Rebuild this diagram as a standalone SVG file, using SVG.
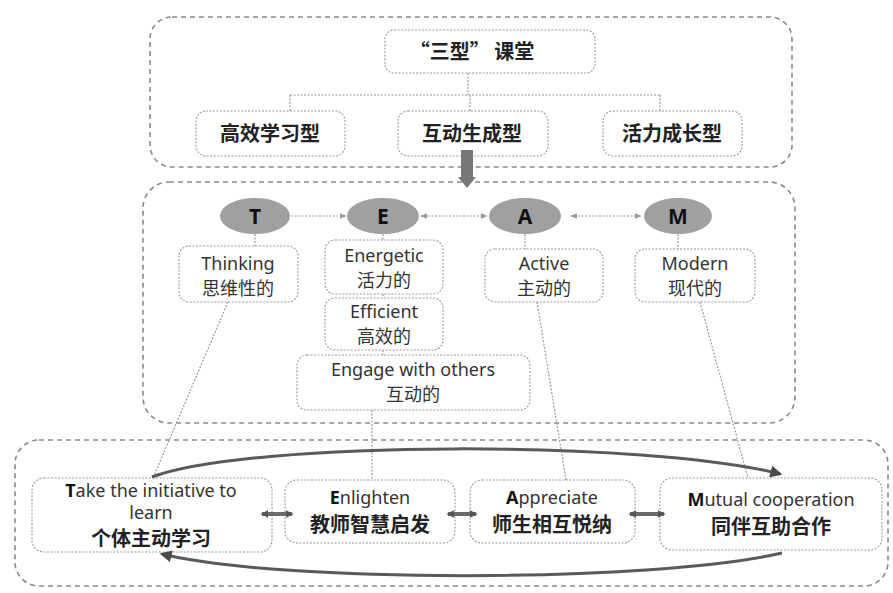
<svg xmlns="http://www.w3.org/2000/svg" width="893" height="593" viewBox="0 0 893 593">
<defs>
<style>
.outer{fill:none;stroke:#8a8a8a;stroke-width:1.6;stroke-dasharray:5 4}
.box{fill:#fff;stroke:#9a9a9a;stroke-width:1.1;stroke-dasharray:2 1.5}
.conn{fill:none;stroke:#9a9a9a;stroke-width:1.2;stroke-dasharray:2 1.5}
.ell{fill:#a0a0a0}
.en{font-family:"Noto Sans","Open Sans",sans-serif;font-size:18px;fill:#333;text-anchor:middle}
.zh{font-family:"Noto Sans CJK SC",sans-serif;font-size:18px;fill:#333;text-anchor:middle}
.zhb{font-family:"Noto Sans CJK SC",sans-serif;font-size:20px;font-weight:bold;fill:#222;text-anchor:middle}
.let{font-family:"Noto Sans","Open Sans",sans-serif;font-size:21px;font-weight:bold;fill:#111;text-anchor:middle}
.arc{fill:none;stroke:#5a5a5a;stroke-width:3}
.thick{fill:none;stroke:#6a6a6a;stroke-width:4}
</style>
<marker id="ah" viewBox="0 0 10 10" refX="9" refY="5" markerWidth="7" markerHeight="7" orient="auto-start-reverse" markerUnits="userSpaceOnUse">
<path d="M0,1 L10,5 L0,9 z" fill="#9a9a9a"/>
</marker>
<marker id="big" viewBox="0 0 10 10" refX="8" refY="5" markerWidth="14" markerHeight="12" orient="auto-start-reverse" markerUnits="userSpaceOnUse">
<path d="M0,0 L10,5 L0,10 z" fill="#4a4a4a"/>
</marker>
<marker id="sm" viewBox="0 0 10 10" refX="8" refY="5" markerWidth="8" markerHeight="10" orient="auto-start-reverse" markerUnits="userSpaceOnUse">
<path d="M0,0 L10,5 L0,10 z" fill="#555"/>
</marker>
</defs>
<rect width="893" height="593" fill="#fff"/>

<g id="frames">
<rect class="outer" x="150" y="17" width="642" height="150" rx="22"/>
<rect class="outer" x="143" y="182" width="652" height="241" rx="26"/>
<rect class="outer" x="15" y="440" width="873" height="146" rx="24"/>
</g>

<!-- top section -->
<g id="n-sanxing">
<rect class="box" x="385" y="30" width="210" height="43" rx="9"/>
<text class="zhb" x="472" y="59">“三型” 课堂</text>
</g>
<g id="n-gaoxiao">
<rect class="box" x="196" y="111" width="149" height="45" rx="10"/>
<text class="zhb" x="270" y="141">高效学习型</text>
</g>
<g id="n-hudong">
<rect class="box" x="398" y="111" width="150" height="45" rx="10"/>
<text class="zhb" x="472" y="141">互动生成型</text>
</g>
<g id="n-huoli">
<rect class="box" x="603" y="111" width="139" height="45" rx="10"/>
<text class="zhb" x="672" y="141">活力成长型</text>
</g>

<g id="n-T"><ellipse class="ell" cx="255" cy="216" rx="35" ry="18"/><text class="let" x="255" y="224">T</text></g>
<g id="n-E"><ellipse class="ell" cx="383" cy="216" rx="36" ry="18"/><text class="let" x="383" y="224">E</text></g>
<g id="n-A"><ellipse class="ell" cx="525" cy="216" rx="36" ry="18"/><text class="let" x="525" y="224">A</text></g>
<g id="n-M"><ellipse class="ell" cx="678" cy="216" rx="34" ry="18"/><text class="let" x="678" y="224">M</text></g>

<g id="n-thinking">
<rect class="box" x="179" y="246" width="119" height="56" rx="10"/>
<text class="en" x="238" y="270">Thinking</text>
<text class="zh" x="238" y="295">思维性的</text>
</g>
<g id="n-energetic">
<rect class="box" x="325" y="240" width="118" height="54" rx="10"/>
<text class="en" x="384" y="262">Energetic</text>
<text class="zh" x="384" y="287">活力的</text>
</g>
<g id="n-efficient">
<rect class="box" x="325" y="298" width="118" height="52" rx="10"/>
<text class="en" x="384" y="318">Efficient</text>
<text class="zh" x="384" y="343">高效的</text>
</g>
<g id="n-engage">
<rect class="box" x="297" y="355" width="233" height="55" rx="10"/>
<text class="en" x="413" y="376">Engage with others</text>
<text class="zh" x="413" y="401">互动的</text>
</g>
<g id="n-active">
<rect class="box" x="485" y="249" width="118" height="53" rx="10"/>
<text class="en" x="544" y="270">Active</text>
<text class="zh" x="544" y="295">主动的</text>
</g>
<g id="n-modern">
<rect class="box" x="635" y="249" width="120" height="53" rx="10"/>
<text class="en" x="695" y="270">Modern</text>
<text class="zh" x="695" y="295">现代的</text>
</g>

<g id="n-take">
<rect class="box" x="32" y="478" width="240" height="74" rx="12"/>
<text class="en" x="151" y="497"><tspan font-weight="bold" fill="#111">T</tspan>ake the initiative to</text>
<text class="en" x="151" y="519">learn</text>
<text class="zhb" x="151" y="546">个体主动学习</text>
</g>
<g id="n-enlighten">
<rect class="box" x="285" y="480" width="170" height="63" rx="12"/>
<text class="en" x="370" y="504"><tspan font-weight="bold" fill="#111">E</tspan>nlighten</text>
<text class="zhb" x="370" y="532">教师智慧启发</text>
</g>
<g id="n-appreciate">
<rect class="box" x="470" y="480" width="165" height="63" rx="12"/>
<text class="en" x="552" y="504"><tspan font-weight="bold" fill="#111">A</tspan>ppreciate</text>
<text class="zhb" x="552" y="532">师生相互悦纳</text>
</g>
<g id="n-mutual">
<rect class="box" x="660" y="478" width="222" height="72" rx="12"/>
<text class="en" x="771" y="506"><tspan font-weight="bold" fill="#111">M</tspan>utual cooperation</text>
<text class="zhb" x="771" y="534">同伴互助合作</text>
</g>

<g id="connectors">
<path class="conn" d="M468 73 V95 M290 95 H660 M290 95 V111 M470 95 V111 M660 95 V111"/>
<polygon points="461,150 473,150 473,177 476,177 467,188 458,177 461,177" fill="#777"/>
<line class="conn" x1="291" y1="216" x2="346" y2="216" marker-end="url(#ah)"/>
<line class="conn" x1="421" y1="216" x2="487" y2="216" marker-start="url(#ah)" marker-end="url(#ah)"/>
<line class="conn" x1="571" y1="216" x2="641" y2="216" marker-start="url(#ah)" marker-end="url(#ah)"/>
<path class="conn" d="M255 234 V246 M383 234 V240 M525 234 V249 M678 234 V249 M383 294 V298 M383 350 V355"/>
<path class="conn" d="M228 302 L153 478 M372 410 V480 M537 302 L566 480 M700 302 L748 478"/>
<path class="arc" d="M152 477 C250 440 650 440 780 474" marker-end="url(#big)"/>
<path class="arc" d="M782 553 C650 583 280 583 162 554" marker-end="url(#big)"/>
<line class="thick" x1="262" y1="514" x2="292" y2="514" marker-start="url(#sm)" marker-end="url(#sm)"/>
<line class="thick" x1="448" y1="514" x2="476" y2="514" marker-start="url(#sm)" marker-end="url(#sm)"/>
<line class="thick" x1="630" y1="514" x2="664" y2="514" marker-start="url(#sm)" marker-end="url(#sm)"/>
</g>
</svg>
